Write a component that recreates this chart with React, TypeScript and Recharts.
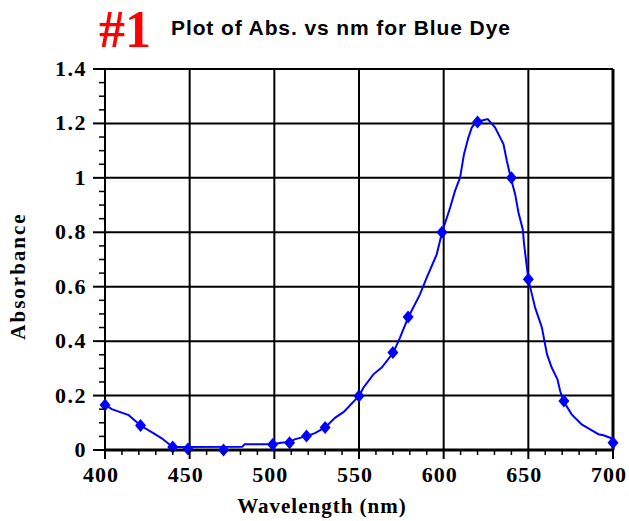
import { CartesianGrid, ReferenceLine, Scatter, ScatterChart, XAxis, YAxis } from "recharts";

// measured points (markers)
const markerNm = [400, 421, 440, 449, 470, 499, 509, 519, 530, 550, 570, 579, 599, 620, 640, 650, 671, 700];
const markerAbs = [0.165, 0.09, 0.011, 0.004, 0, 0.02, 0.027, 0.051, 0.083, 0.198, 0.358, 0.489, 0.8, 1.205, 1.0, 0.627, 0.18, 0.027];

// scanned spectrum (line)
const curveNm = [
  400, 404, 414, 421, 429.5, 433.5, 440, 481, 482.5, 499, 504, 509, 512, 519, 524, 530, 536, 541, 550,
  552.6, 558.5, 563.4, 570.3, 574.2, 576.6, 579.2, 586, 590, 595.9, 599, 603.8, 606.7, 609.7, 612, 614.6,
  616.6, 619.5, 622, 626, 630.4, 635.3, 637.3, 639.6, 642.2, 644.2, 646.7, 647.5, 650, 654, 658, 661,
  663.8, 667.2, 668.8, 670.7, 675.6, 681.5, 686.5, 691.4, 694.3, 698.3, 700,
];
const curveAbs = [
  0.167, 0.15, 0.128, 0.09, 0.058, 0.043, 0.011, 0.012, 0.021, 0.021, 0.027, 0.029, 0.039, 0.051, 0.062, 0.083, 0.119, 0.14, 0.199,
  0.229, 0.278, 0.303, 0.358, 0.413, 0.45, 0.489, 0.572, 0.633, 0.719, 0.799, 0.89, 0.952, 1.001, 1.087, 1.148,
  1.185, 1.207, 1.21, 1.216, 1.185, 1.124, 1.063, 1.001, 0.94, 0.872, 0.811, 0.756, 0.627, 0.523, 0.45, 0.352,
  0.303, 0.26, 0.217, 0.18, 0.131, 0.094, 0.076, 0.058, 0.054, 0.045, 0.04,
];

const xTicks = [
  400, 410, 420, 430, 440, 450, 460, 470, 480, 490, 500, 510, 520, 530, 540, 550, 560, 570, 580, 590, 600,
  610, 620, 630, 640, 650, 660, 670, 680, 690, 700,
];
const xMajor = [400, 450, 500, 550, 600, 650, 700];
const yTicks = [
  0, 0.05, 0.1, 0.15, 0.2, 0.25, 0.3, 0.35, 0.4, 0.45, 0.5, 0.55, 0.6, 0.65, 0.7, 0.75, 0.8, 0.85, 0.9,
  0.95, 1, 1.05, 1.1, 1.15, 1.2, 1.25, 1.3, 1.35, 1.4,
];
const yMajor = [0, 0.2, 0.4, 0.6, 0.8, 1, 1.2, 1.4];

const markers = markerNm.map((nm, i) => ({ nm, abs: markerAbs[i] }));
const curve = curveNm.map((nm, i) => ({ nm, abs: curveAbs[i] }));

const BLUE = "#0000ff";
const serifText = { fontFamily: '"Liberation Serif", "Times New Roman", serif', fontWeight: 700 };

const XTick = (props: any) => {
  const { x, y, payload } = props;
  const major = xMajor.includes(payload.value);
  return (
    <g>
      <line x1={x} x2={x} y1={y} y2={y + (major ? 9 : 5)} stroke="#000" strokeWidth={major ? 2 : 1.5} />
      {major && (
        <text x={x - 4} y={y + 32} textAnchor="middle" style={{ ...serifText, fontSize: 22, letterSpacing: 1 }} fill="#000">
          {payload.value}
        </text>
      )}
    </g>
  );
};

const YTick = (props: any) => {
  const { x, y, payload } = props;
  const major = yMajor.includes(payload.value);
  return (
    <g>
      <line x1={x} x2={x - (major ? 12 : 6)} y1={y} y2={y} stroke="#000" strokeWidth={major ? 2 : 1.5} />
      {major && (
        <text x={x - 18} y={y + 7} textAnchor="end" style={{ ...serifText, fontSize: 22, letterSpacing: 1.5 }} fill="#000">
          {payload.value}
        </text>
      )}
    </g>
  );
};

const Diamond = (props: any) => {
  const { cx, cy } = props;
  return <polygon points={`${cx},${cy - 6.5} ${cx + 5.5},${cy} ${cx},${cy + 6.5} ${cx - 5.5},${cy}`} fill={BLUE} />;
};

export default function App() {
  return (
    <div style={{ position: "absolute", left: 0, top: 0, width: 629, height: 521, background: "#fff" }}>
      <ScatterChart width={629} height={521} margin={{ top: 69, right: 16, bottom: 0, left: 0 }}>
        <CartesianGrid stroke="#000" strokeWidth={2} horizontalValues={yMajor} verticalValues={xMajor} />
        <XAxis
          type="number"
          dataKey="nm"
          domain={[400, 700]}
          ticks={xTicks}
          interval={0}
          height={71}
          tickSize={0}
          tickMargin={0}
          tickLine={false}
          tick={<XTick />}
          axisLine={{ stroke: "#000", strokeWidth: 3 }}
        />
        <YAxis
          type="number"
          dataKey="abs"
          domain={[0, 1.4]}
          ticks={yTicks}
          interval={0}
          width={105}
          tickSize={0}
          tickMargin={0}
          tickLine={false}
          tick={<YTick />}
          axisLine={{ stroke: "#000", strokeWidth: 2 }}
        />
        <ReferenceLine x={700} stroke="#000" strokeWidth={3} />
        <Scatter
          data={curve}
          line={{ stroke: BLUE, strokeWidth: 2 }}
          lineType="joint"
          shape={() => null}
          isAnimationActive={false}
        />
        <Scatter data={markers} shape={<Diamond />} isAnimationActive={false} />
      </ScatterChart>
      <svg width={629} height={521} style={{ position: "absolute", left: 0, top: 0, pointerEvents: "none" }}>
        <text x={99} y={47} style={{ ...serifText, fontSize: 52 }} fill="#ff0000">
          #1
        </text>
        <text
          x={171}
          y={35}
          style={{ fontFamily: '"Liberation Sans", Arial, sans-serif', fontWeight: 700, fontSize: 21, letterSpacing: 0.9 }}
          fill="#000"
        >
          Plot of Abs. vs nm for Blue Dye
        </text>
        <text x={322} y={513} textAnchor="middle" style={{ ...serifText, fontSize: 21, letterSpacing: 1 }} fill="#000">
          Wavelength (nm)
        </text>
        <text
          x={25}
          y={276}
          textAnchor="middle"
          transform="rotate(-90 25 276)"
          style={{ ...serifText, fontSize: 21, letterSpacing: 2 }}
          fill="#000"
        >
          Absorbance
        </text>
      </svg>
    </div>
  );
}
